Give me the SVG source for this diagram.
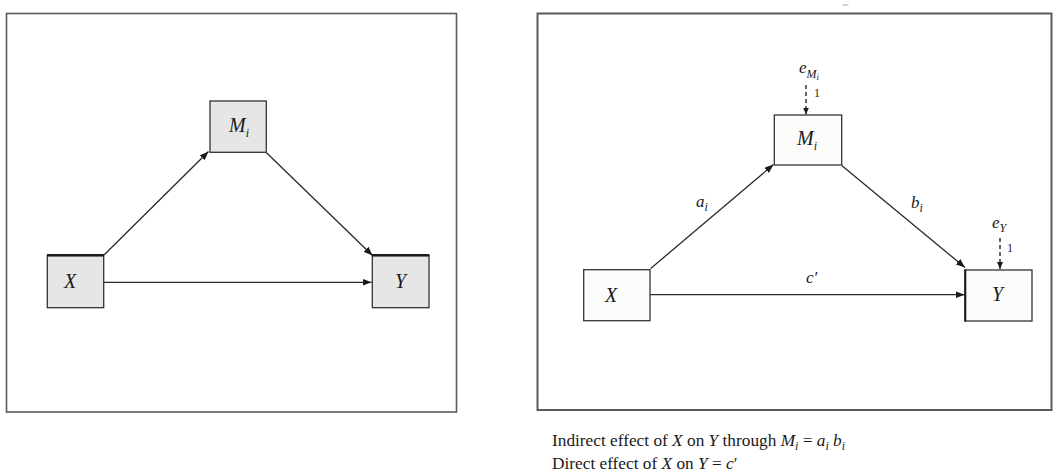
<svg xmlns="http://www.w3.org/2000/svg" width="1056" height="475" viewBox="0 0 1056 475">
  <style>
    .frame { fill: #ffffff; stroke: #5a5a5a; stroke-width: 1.6; }
    .boxL { fill: #e6e6e6; stroke: #333333; stroke-width: 1.3; }
    .boxR { fill: #fcfcfa; stroke: #333333; stroke-width: 1.3; }
    .thick { stroke: #1a1a1a; stroke-width: 2.6; }
    .edge { stroke: #2a2a2a; stroke-width: 1.3; fill: none; marker-end: url(#arr); }
    .dash { stroke: #333333; stroke-width: 1.5; fill: none; stroke-dasharray: 4 3; marker-end: url(#arrs); }
    text { font-family: "Liberation Serif", "Times New Roman", serif; fill: #1a1a1a; }
    .var { font-style: italic; font-size: 20px; }
    .lab { font-style: italic; font-size: 17px; }
    .sub { font-size: 12px; }
    .one { font-size: 12px; }
    .cap { font-size: 17.3px; }
    .it { font-style: italic; }
  </style>
  <defs>
    <marker id="arr" markerWidth="9" markerHeight="7" refX="9" refY="3.5" orient="auto" markerUnits="userSpaceOnUse">
      <path d="M0,0 L9,3.5 L0,7 Z" fill="#1a1a1a"/>
    </marker>
    <marker id="arrs" markerWidth="7" markerHeight="6" refX="7" refY="3" orient="auto" markerUnits="userSpaceOnUse">
      <path d="M0,0 L7,3 L0,6 Z" fill="#1a1a1a"/>
    </marker>
  </defs>

  <!-- panel frames -->
  <g id="frames">
    <rect class="frame" x="6.5" y="13.5" width="450" height="398.5"/>
    <rect class="frame" x="537.5" y="13.5" width="514" height="396.5" style="stroke-width:2"/>
    <line x1="842.5" y1="5" x2="848.5" y2="5" stroke="#aaaaaa" stroke-width="1"/>
  </g>

  <!-- connectors -->
  <g id="connectors">
    <line class="edge" x1="104" y1="255" x2="208.5" y2="151.5"/>
    <line class="edge" x1="266.3" y1="152.5" x2="372.5" y2="255.5"/>
    <line class="edge" x1="104" y1="282.3" x2="371.5" y2="282.3"/>

    <line class="edge" x1="650.7" y1="268.5" x2="773.5" y2="164.5"/>
    <line class="edge" x1="841.7" y1="165.5" x2="965" y2="267.5"/>
    <line class="edge" x1="650.5" y1="294.7" x2="964.5" y2="294.7"/>
    <line class="dash" x1="806" y1="85" x2="806" y2="114.5"/>
    <line class="dash" x1="1000" y1="238" x2="1000" y2="269"/>
  </g>

  <!-- left panel nodes -->
  <g id="L_M">
    <rect class="boxL" x="210" y="101" width="56.3" height="51.3"/>
    <text class="var" x="229" y="131.5">M<tspan class="sub" dy="5">i</tspan></text>
  </g>
  <g id="L_X">
    <rect class="boxL" x="47.3" y="255.5" width="56.4" height="52.2"/>
    <line class="thick" x1="47" y1="255.3" x2="104" y2="255.3"/>
    <text class="var" x="64" y="288.3">X</text>
  </g>
  <g id="L_Y">
    <rect class="boxL" x="372.3" y="255.5" width="56.7" height="52.2"/>
    <line class="thick" x1="372" y1="255.3" x2="429.3" y2="255.3"/>
    <text class="var" x="395" y="287.5">Y</text>
  </g>

  <!-- right panel nodes -->
  <g id="R_M">
    <rect class="boxR" x="774.3" y="115" width="67.4" height="50"/>
    <text class="var" x="797" y="145">M<tspan class="sub" dy="5">i</tspan></text>
  </g>
  <g id="R_X">
    <rect class="boxR" x="583.7" y="269.7" width="66.3" height="51"/>
    <text class="var" x="605" y="301.7">X</text>
  </g>
  <g id="R_Y">
    <rect class="boxR" x="965" y="270" width="67" height="51"/>
    <line x1="965.3" y1="269.5" x2="965.3" y2="321.5" stroke="#1a1a1a" stroke-width="2"/>
    <text class="var" x="992" y="301">Y</text>
  </g>
  <g id="R_eM">
    <text class="lab" x="799" y="73">e<tspan class="sub it" dy="5">M</tspan><tspan class="it" font-size="9" dy="2">i</tspan></text>
    <text class="one" x="814" y="97">1</text>
  </g>
  <g id="R_eY">
    <text class="lab" x="992" y="228">e<tspan class="sub it" font-size="11" dy="4">Y</tspan></text>
    <text class="one" x="1007" y="252">1</text>
  </g>

  <!-- edge labels -->
  <g id="edge_labels">
    <text class="lab" x="696" y="207">a<tspan class="sub" dy="4">i</tspan></text>
    <text class="lab" x="911" y="208">b<tspan class="sub" dy="4">i</tspan></text>
    <text class="lab" x="806" y="283">c′</text>
  </g>

  <!-- caption -->
  <g id="caption">
    <text class="cap" x="552" y="446">Indirect effect of <tspan class="it">X</tspan> on <tspan class="it">Y</tspan> through <tspan class="it">M</tspan><tspan class="it" font-size="12" dy="4">i</tspan><tspan dy="-4"> = </tspan><tspan class="it">a</tspan><tspan class="it" font-size="12" dy="4">i</tspan><tspan dy="-4"> </tspan><tspan class="it">b</tspan><tspan class="it" font-size="12" dy="4">i</tspan></text>
    <text class="cap" x="552" y="469">Direct effect of <tspan class="it">X</tspan> on <tspan class="it">Y</tspan> = <tspan class="it">c</tspan>′</text>
  </g>
</svg>
